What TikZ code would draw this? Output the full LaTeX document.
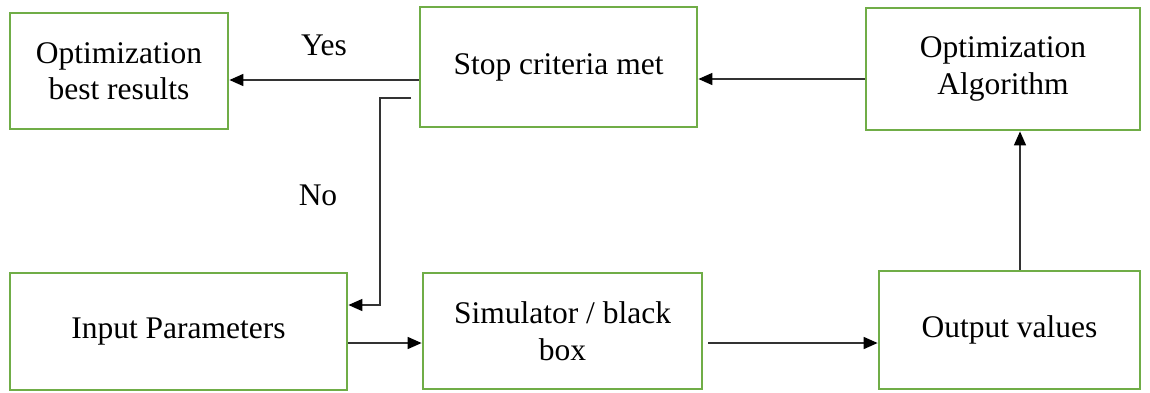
\documentclass[tikz,border=0pt]{standalone}
\usepackage{fontspec}
\setmainfont{Liberation Serif}
\usetikzlibrary{arrows.meta}
\definecolor{boxgreen}{HTML}{70AD47}
\begin{document}
\begin{tikzpicture}[x=1pt,y=-1pt,
  blk/.style={draw=boxgreen,line width=2.8pt,rectangle,inner sep=0pt,align=center,
    font=\fontsize{31.5}{36.5}\selectfont},
  arr/.style={line width=1.6pt,draw=black!80,-{Triangle[length=14pt,width=12pt,color=black]}},
  lbl/.style={font=\fontsize{31.5}{36.5}\selectfont,inner sep=0pt}]
\useasboundingbox (0,0) rectangle (1150,392);
\node[blk,minimum width=218pt,minimum height=116pt] (best) at (119,71) {Optimization\\best results};
\node[blk,minimum width=277pt,minimum height=120pt] (stop) at (558.5,67) {Stop criteria met};
\node[blk,minimum width=274pt,minimum height=122pt] (algo) at (1003,69) {Optimization\\Algorithm};
\node[blk,minimum width=337pt,minimum height=117pt] (input) at (178.5,331.5) {Input Parameters};
\node[blk,minimum width=279pt,minimum height=116pt] (sim) at (562.5,331) {Simulator / black\\box};
\node[blk,minimum width=261pt,minimum height=118pt] (out) at (1009.5,330) {Output values};
\node[lbl] (yes) at (324,45) {Yes};
\node[lbl] (no) at (318,195) {No};
\coordinate (yesrow) at (0,80);
\coordinate (algorow) at (0,79);
\coordinate (no0) at (411,98);
\coordinate (no1) at (380,98);
\coordinate (norow) at (0,305);
\coordinate (brow) at (0,343);
\coordinate (sim0) at (708,343);
\coordinate (col) at (1020,0);
\draw[arr] (stop.west |- yesrow) -- (best.east |- yesrow);
\draw[arr] (algo.west |- algorow) -- (stop.east |- algorow);
\draw[arr] (no0) -- (no1) -- (no1 |- norow) -- (input.east |- norow);
\draw[arr] (input.east |- brow) -- (sim.west |- brow);
\draw[arr] (sim0) -- (out.west |- sim0);
\draw[arr] (out.north -| col) -- (algo.south -| col);
\end{tikzpicture}
\end{document}
